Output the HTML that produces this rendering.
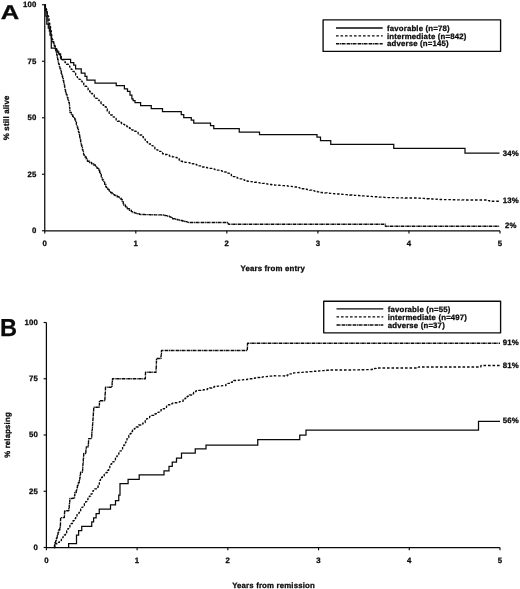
<!DOCTYPE html>
<html><head><meta charset="utf-8"><title>Survival and relapse curves</title>
<style>
html,body{margin:0;padding:0;background:#fff;}
body{width:520px;height:589px;position:relative;overflow:hidden;font-family:"Liberation Sans",sans-serif;}
</style></head>
<body>
<svg width="520" height="589" viewBox="0 0 520 589" style="position:absolute;left:0;top:0;display:block;will-change:transform;transform:translateZ(0)">
<rect width="520" height="589" fill="#fff"/>
<g font-family="Liberation Sans, sans-serif" font-weight="bold" font-size="7.8px" letter-spacing="0.17" fill="#0a0a0a" stroke="#0a0a0a" stroke-width="0.28" stroke-linejoin="round" text-rendering="geometricPrecision">
<path d="M44.75,4.75V230.75H500" fill="none" stroke="#0a0a0a" stroke-width="1.25"/>
<path d="M41.95,4.75H44.75" stroke="#0a0a0a" stroke-width="1.15"/>
<path d="M41.95,61.25H44.75" stroke="#0a0a0a" stroke-width="1.15"/>
<path d="M41.95,117.75H44.75" stroke="#0a0a0a" stroke-width="1.15"/>
<path d="M41.95,174.25H44.75" stroke="#0a0a0a" stroke-width="1.15"/>
<path d="M41.95,230.75H44.75" stroke="#0a0a0a" stroke-width="1.15"/>
<path d="M44.75,230.75V233.55" stroke="#0a0a0a" stroke-width="1.15"/>
<path d="M135.8,230.75V233.55" stroke="#0a0a0a" stroke-width="1.15"/>
<path d="M226.85,230.75V233.55" stroke="#0a0a0a" stroke-width="1.15"/>
<path d="M317.9,230.75V233.55" stroke="#0a0a0a" stroke-width="1.15"/>
<path d="M408.95,230.75V233.55" stroke="#0a0a0a" stroke-width="1.15"/>
<path d="M500,230.75V233.55" stroke="#0a0a0a" stroke-width="1.15"/>

<text x="36.6" y="7.05" text-anchor="end">100</text>
<text x="36.6" y="63.55" text-anchor="end">75</text>
<text x="36.6" y="120.05" text-anchor="end">50</text>
<text x="36.6" y="176.55" text-anchor="end">25</text>
<text x="36.6" y="233.05" text-anchor="end">0</text>

<text x="44.75" y="245.7" text-anchor="middle">0</text>
<text x="135.8" y="245.7" text-anchor="middle">1</text>
<text x="226.85" y="245.7" text-anchor="middle">2</text>
<text x="317.9" y="245.7" text-anchor="middle">3</text>
<text x="408.95" y="245.7" text-anchor="middle">4</text>
<text x="500" y="245.7" text-anchor="middle">5</text>

<text transform="translate(8.7,117.8) rotate(-90)" text-anchor="middle" font-size="7.9px">% still alive</text>
<text x="272.75" y="270.5" text-anchor="middle" font-size="7.85px">Years from entry</text>
<text transform="translate(0.85,18.95) scale(1.275,1)" font-size="20px" letter-spacing="0">A</text>
<path d="M44.75,4.75H45.3V10H45.9V16H46.8V24H48.3V28H49.4V31H50V35H51.3V48.2H55.5V49.5H56.9V51.9H58.75V53.75H60.6V56.5H61.25V59.4H70.6V62.5H73.75V65H75.6V68.75H81.25V73.1H85V76.25H86.9V80H95V83.1H116.25V85.6H124.4V88.75H127.5V91.25H130V95H131.9V98.75H133.1V100.6H135V102.5H140.6V105.6H151.25V108.5H162.5V111.5H181.25V114.5H183.75V117.5H191.25V120H193.75V123H210.5V125.5H213.75V128.5H239.25V132H259.5V134.5H317V137H320.5V140.5H330.75V144.25H393.75V148.25H465V153H499.5V153" fill="none" stroke="#0a0a0a" stroke-width="1.25" stroke-linejoin="miter"/>
<path d="M44.75,4.75H45.43V7.05H46.11V9.35H46.60V11.00H47.27V13.30H47.94V15.61H48.20V16.50H48.64V18.86H49.08V21.22H49.52V23.58H49.60V24.00H50.07V26.35H50.54V28.71H51.00V31.00H51.28V33.38H51.57V35.77H51.85V38.15H52.00V39.40H52.85V41.64H53.71V43.89H54.56V46.13H55.41V48.37H55.50V48.60H56.67V50.70H57.83V52.80H58.50V54.00H59.57V56.15H60.50V58.00H62.20V59.70H63.89V61.39H65.00V62.50H66.61V64.28H68.22V66.06H69.83V67.84H71.25V69.40H72.72V71.30H74.18V73.20H75.65V75.10H77.11V77.00H77.50V77.50H79.06V79.32H80.62V81.14H82.19V82.97H83.75V84.79H85.00V86.25H86.56V88.07H88.12V89.89H89.69V91.72H91.25V93.54H92.50V95.00H94.20V96.70H95.89V98.39H97.59V100.09H99.29V101.79H100.99V103.49H101.25V103.75H103.12V105.25H105.00V106.75H105.00V106.75H106.12V108.87H107.24V111.00H107.50V111.50H109.13V113.26H110.76V115.02H112.39V116.78H112.50V116.90H114.31V118.48H116.12V120.05H117.50V121.25H119.53V122.53H121.56V123.81H122.50V124.40H124.65V125.47H126.79V126.55H127.50V126.90H129.48V128.26H131.45V129.62H132.00V130.00H134.04V131.27H136.07V132.54H138.11V133.82H140.00V135.00H141.70V136.70H143.39V138.39H145.09V140.09H146.79V141.79H147.50V142.50H149.34V144.04H151.19V145.57H153.03V147.11H154.87V148.65H155.00V148.75H157.00V150.08H158.99V151.41H160.99V152.74H162.50V153.75H164.78V154.51H167.05V155.27H169.33V156.03H170.00V156.25H172.33V156.83H174.66V157.41H175.00V157.50H177.06V158.73H179.12V159.97H181.17V161.20H182.50V162.00H184.88V162.32H187.26V162.63H189.64V162.95H190.00V163.00H192.29V163.73H194.57V164.46H196.86V165.19H199.14V165.93H201.43V166.66H202.50V167.00H204.85V167.47H207.21V167.94H209.56V168.41H211.91V168.88H214.27V169.35H215.00V169.50H217.33V170.08H219.66V170.66H221.99V171.25H224.31V171.83H225.00V172.00H227.10V173.16H229.21V174.31H231.31V175.47H233.41V176.63H235.00V177.50H237.30V178.19H239.60V178.88H241.90V179.57H244.20V180.26H246.49V180.95H247.50V181.25H249.88V181.58H252.25V181.92H254.63V182.25H257.01V182.58H259.38V182.91H260.00V183.00H262.37V183.38H264.74V183.76H267.11V184.14H269.48V184.52H271.85V184.90H272.50V185.00H274.90V185.14H277.29V185.29H279.69V185.43H282.08V185.57H284.48V185.72H285.00V185.75H287.38V186.05H289.76V186.35H292.14V186.64H294.53V186.94H295.00V187.00H297.34V187.55H299.67V188.09H302.01V188.64H302.50V188.75H304.85V189.22H307.21V189.69H309.56V190.16H311.91V190.63H314.27V191.10H315.00V191.25H317.33V191.83H319.66V192.41H320.00V192.50H322.39V192.71H324.78V192.92H327.17V193.13H329.56V193.34H331.95V193.55H334.35V193.76H336.74V193.96H339.13V194.17H340.00V194.25H342.39V194.43H344.79V194.61H347.18V194.79H349.57V194.97H351.97V195.15H354.36V195.33H356.75V195.51H359.15V195.69H360.00V195.75H362.39V195.92H364.79V196.09H367.18V196.25H369.58V196.42H371.97V196.59H374.36V196.76H376.76V196.92H379.15V197.09H381.55V197.26H383.94V197.43H385.00V197.50H387.40V197.56H389.80V197.62H392.20V197.68H394.60V197.74H397.00V197.80H399.40V197.86H401.79V197.92H404.19V197.98H405.00V198.00H415.00V198.00H417.40V198.14H419.79V198.29H422.19V198.43H424.58V198.57H426.98V198.72H429.37V198.86H431.77V199.01H434.17V199.15H436.56V199.29H438.96V199.44H440.00V199.50H442.40V199.55H444.80V199.60H447.20V199.64H449.60V199.69H452.00V199.74H454.40V199.79H456.80V199.84H459.20V199.88H461.60V199.93H464.00V199.98H465.00V200.00H485.00V200.00H487.33V200.58H489.66V201.16H490.00V201.25H499.50V201.25" fill="none" stroke="#0a0a0a" stroke-width="1.35" stroke-dasharray="2.6 1.9"/>
<path d="M44.75,4.75H45.29V7.09H45.83V9.43H46.20V11.00H46.71V13.34H47.22V15.69H47.40V16.50H47.72V18.88H48.03V21.26H48.35V23.64H48.40V24.00H49.06V26.31H49.72V28.62H50.38V30.92H50.40V31.00H50.74V33.38H51.08V35.75H51.42V38.13H51.60V39.40H52.50V41.63H53.39V43.85H54.29V46.08H55.18V48.31H55.30V48.60H55.83V50.94H56.36V53.28H56.70V54.80H57.19V57.15H57.67V59.50H58.16V61.85H58.60V64.00H59.28V66.30H59.96V68.60H60.00V68.75H60.64V71.06H61.28V73.38H61.91V75.69H62.00V76.00H62.62V78.32H63.25V80.63H63.75V82.50H64.19V84.86H64.62V87.22H65.06V89.58H65.50V91.94H65.60V92.50H66.36V94.78H67.12V97.05H67.88V99.33H68.10V100.00H68.70V102.32H69.31V104.65H69.40V105.00H69.59V107.39H69.78V109.78H69.97V112.18H70.00V112.50H71.33V114.50H72.66V116.49H73.99V118.49H75.00V120.00H75.69V122.30H76.38V124.60H77.07V126.90H77.76V129.20H78.45V131.49H78.75V132.50H79.22V134.85H79.69V137.21H80.16V139.56H80.63V141.91H81.10V144.27H81.25V145.00H81.83V147.33H82.41V149.66H83.00V151.99H83.58V154.31H83.75V155.00H84.98V157.06H86.22V159.12H87.45V161.17H87.50V161.25H89.56V162.48H91.62V163.72H93.67V164.95H93.75V165.00H95.45V166.70H97.14V168.39H98.75V170.00H99.59V172.25H100.44V174.49H101.28V176.74H102.12V178.99H102.50V180.00H103.57V182.15H104.65V184.29H105.72V186.44H106.25V187.50H107.69V189.42H109.13V191.34H110.00V192.50H112.06V193.73H114.12V194.97H115.00V195.50H117.02V196.79H119.04V198.09H121.06V199.38H121.25V199.50H122.24V201.68H123.24V203.87H123.75V205.00H125.45V206.70H127.14V208.39H127.50V208.75H129.42V210.19H131.34V211.63H132.50V212.50H134.82V213.12H137.14V213.74H139.46V214.36H140.00V214.50H142.40V214.55H144.80V214.61H147.20V214.66H149.60V214.71H152.00V214.77H154.40V214.82H156.80V214.87H159.20V214.93H161.59V214.98H162.50V215.00H164.82V215.62H167.14V216.24H169.46V216.86H170.00V217.00H171.97V218.38H172.50V218.75H174.84V219.30H177.17V219.84H179.51V220.39H180.00V220.50H182.34V221.03H184.68V221.57H187.02V222.10H188.75V222.50H226.25V222.50H228.22V223.88H228.75V224.25H383.75V224.25H385.33V226.06H385.50V226.25H499.50V226.25" fill="none" stroke="#0a0a0a" stroke-width="1.38" stroke-dasharray="3.4 0.6 0.9 0.6"/>
<rect x="323.1" y="19.8" width="177.5" height="31.6" fill="#fff" stroke="#0a0a0a" stroke-width="1.35"/>
<path d="M336,28H382.7" stroke="#0a0a0a" stroke-width="1.35"/>
<text x="387" y="30.7">favorable (n=78)</text>
<path d="M336,35.9H382.7" stroke="#0a0a0a" stroke-width="1.35" stroke-dasharray="2.6 1.9"/>
<text x="387" y="38.6">intermediate (n=842)</text>
<path d="M336,43.75H382.7" stroke="#0a0a0a" stroke-width="1.35" stroke-dasharray="3.4 0.6 0.9 0.6"/>
<text x="387" y="46.45">adverse (n=145)</text>

<text x="510.7" y="155.6" text-anchor="middle">34%</text>
<text x="510.7" y="203.1" text-anchor="middle">13%</text>
<text x="510.7" y="228" text-anchor="middle">2%</text>
<path d="M46.4,322.5V547.5H500" fill="none" stroke="#0a0a0a" stroke-width="1.25"/>
<path d="M43.6,322.5H46.4" stroke="#0a0a0a" stroke-width="1.15"/>
<path d="M43.6,378.75H46.4" stroke="#0a0a0a" stroke-width="1.15"/>
<path d="M43.6,435H46.4" stroke="#0a0a0a" stroke-width="1.15"/>
<path d="M43.6,491.25H46.4" stroke="#0a0a0a" stroke-width="1.15"/>
<path d="M43.6,547.5H46.4" stroke="#0a0a0a" stroke-width="1.15"/>
<path d="M46.4,547.5V550.3" stroke="#0a0a0a" stroke-width="1.15"/>
<path d="M137.12,547.5V550.3" stroke="#0a0a0a" stroke-width="1.15"/>
<path d="M227.84,547.5V550.3" stroke="#0a0a0a" stroke-width="1.15"/>
<path d="M318.56,547.5V550.3" stroke="#0a0a0a" stroke-width="1.15"/>
<path d="M409.28,547.5V550.3" stroke="#0a0a0a" stroke-width="1.15"/>
<path d="M500,547.5V550.3" stroke="#0a0a0a" stroke-width="1.15"/>

<text x="38.0" y="324.8" text-anchor="end">100</text>
<text x="38.0" y="381.05" text-anchor="end">75</text>
<text x="38.0" y="437.3" text-anchor="end">50</text>
<text x="38.0" y="493.55" text-anchor="end">25</text>
<text x="38.0" y="549.8" text-anchor="end">0</text>

<text x="46.4" y="562.8" text-anchor="middle">0</text>
<text x="137.12" y="562.8" text-anchor="middle">1</text>
<text x="227.84" y="562.8" text-anchor="middle">2</text>
<text x="318.56" y="562.8" text-anchor="middle">3</text>
<text x="409.28" y="562.8" text-anchor="middle">4</text>
<text x="500" y="562.8" text-anchor="middle">5</text>

<text transform="translate(10.3,435) rotate(-90)" text-anchor="middle">% relapsing</text>
<text x="273.5" y="587.5" text-anchor="middle" font-size="7.8px">Years from remission</text>
<text transform="translate(0.1,335.7) scale(0.96,1)" font-size="24.6px" letter-spacing="0">B</text>
<path d="M68.6,547.5H68.6V543.5H76.5V535H78.6V530.6H81.75V526.25H91.75V521.9H93.6V517.75H96.1V513.5H99.25V509H110.5V504.75H115.5V500.5H118.75V495H120V483.5H128.1V479.4H139.2V474.75H164V470.75H169V466.25H172.25V462H176.5V458H181.5V453H195.25V448.75H206V445H257.75V439.5H299.75V435H306V430H478.5V421.25H500V421.25" fill="none" stroke="#0a0a0a" stroke-width="1.25" stroke-linejoin="miter"/>
<path d="M54.00,547.50H54.89V545.27H55.50V543.75H57.45V542.35H59.40V540.96H59.90V540.60H61.37V538.70H62.84V536.81H64.25V535.00H65.45V532.92H66.66V530.85H67.86V528.77H68.60V527.50H69.89V525.48H71.18V523.45H72.47V521.43H73.00V520.60H74.33V518.60H75.66V516.61H76.99V514.61H78.00V513.10H79.33V511.10H80.66V509.11H81.99V507.11H83.00V505.60H84.33V503.60H85.66V501.61H86.99V499.61H88.00V498.10H89.33V496.10H90.66V494.11H91.99V492.11H93.00V490.60H94.72V488.93H96.44V487.25H98.16V485.58H98.75V485.00H99.32V482.67H99.90V480.34H100.47V478.01H100.60V477.50H102.40V475.91H104.19V474.32H105.99V472.73H106.25V472.50H107.44V470.42H108.63V468.33H109.82V466.25H111.01V464.16H111.25V463.75H112.64V461.80H114.04V459.84H115.43V457.89H116.83V455.94H117.50V455.00H118.77V452.96H120.04V450.93H121.32V448.89H122.59V446.86H123.75V445.00H124.82V442.85H125.90V440.71H126.97V438.56H127.50V437.50H128.83V435.50H130.16V433.51H131.49V431.51H132.50V430.00H134.37V428.50H136.25V427.00H138.12V425.50H138.75V425.00H140.90V423.93H143.04V422.85H143.75V422.50H145.19V420.58H146.63V418.66H147.50V417.50H149.65V416.43H151.79V415.35H153.94V414.28H155.00V413.75H157.00V412.42H158.99V411.09H160.99V409.76H162.50V408.75H164.50V407.42H166.49V406.09H168.49V404.76H170.00V403.75H172.34V403.23H174.69V402.71H177.03V402.19H179.37V401.67H181.25V401.25H183.12V399.75H185.00V398.25H186.87V396.75H187.50V396.25H189.53V394.97H191.56V393.70H193.60V392.42H195.63V391.14H196.25V390.75H198.63V390.41H201.00V390.07H203.38V389.73H205.00V389.50H207.28V388.76H209.56V388.02H211.85V387.27H214.13V386.53H215.00V386.25H217.39V386.05H219.78V385.84H222.17V385.64H223.75V385.50H225.90V384.43H228.04V383.35H230.19V382.28H232.34V381.21H233.75V380.50H236.14V380.29H238.53V380.08H240.92V379.86H243.31V379.65H245.00V379.50H247.37V379.12H249.74V378.74H252.11V378.36H254.48V377.98H256.85V377.60H257.50V377.50H259.88V377.22H262.27V376.94H264.65V376.67H267.04V376.39H269.42V376.11H271.80V375.83H272.50V375.75H274.90V375.80H277.30V375.85H279.70V375.89H282.10V375.94H284.50V375.99H285.00V376.00H287.16V374.96H289.33V373.92H291.25V373.00H293.64V372.83H296.04V372.65H298.43V372.48H300.82V372.30H303.22V372.13H305.00V372.00H307.39V371.81H309.78V371.62H312.18V371.43H314.57V371.23H316.96V371.04H319.35V370.85H321.75V370.66H324.14V370.47H326.53V370.28H328.92V370.09H330.00V370.00H350.00V370.00H352.40V369.94H354.80V369.88H357.20V369.82H359.60V369.76H362.00V369.70H364.40V369.64H366.79V369.58H369.19V369.52H370.00V369.50H372.33V368.94H374.67V368.38H376.25V368.00H390.00V368.00H416.00V368.00H418.26V367.18H418.75V367.00H478.75V367.00H480.81V365.77H481.25V365.50H500.00V365.50" fill="none" stroke="#0a0a0a" stroke-width="1.35" stroke-dasharray="2.6 1.9"/>
<path d="M54.00,547.50H54.47V545.15H54.94V542.79H55.00V542.50H55.73V540.21H56.46V537.93H57.19V535.64H57.40V535.00H57.96V532.67H58.52V530.33H58.60V530.00H59.78V527.91H60.30V527.00H60.38V524.60H60.45V522.20H60.53V519.80H60.60V517.60H64.25V517.60H64.38V515.20H64.50V512.81H64.60V511.00H66.99V510.76H68.60V510.60H68.91V508.22H69.00V507.50H69.24V505.11H69.48V502.72H69.72V500.34H69.90V498.50H72.28V498.23H74.25V498.00H74.53V495.62H74.81V493.23H74.90V492.50H76.25V490.52H76.60V490.00H77.03V487.64H77.45V485.28H77.50V485.00H78.35V482.76H79.21V480.51H79.40V480.00H79.77V477.63H80.14V475.26H80.51V472.89H80.60V472.30H82.40V472.00H82.56V469.61H82.71V467.21H82.87V464.82H83.02V462.42H83.10V461.25H83.30V458.86H83.50V456.47H83.70V454.08H83.75V453.50H85.60V452.50H85.88V450.12H86.15V447.73H86.25V446.90H88.14V445.42H88.30V445.30H88.41V442.90H88.51V440.50H88.60V438.60H91.50V438.60H91.66V436.21H91.81V433.81H91.90V432.50H92.09V430.11H92.28V427.72H92.47V425.32H92.50V425.00H92.67V422.61H92.84V420.21H93.01V417.82H93.18V415.42H93.35V413.03H93.51V410.64H93.68V408.24H93.75V407.30H99.25V407.30H99.34V404.90H99.43V402.50H99.50V400.75H104.75V400.75H104.88V398.35H105.02V395.96H105.15V393.56H105.28V391.16H105.42V388.77H105.50V387.30H111.75V387.30H111.96V384.91H112.17V382.52H112.38V380.13H112.50V378.75H145.25V378.75H145.34V376.35H145.44V373.95H145.50V372.30H156.00V372.30H156.09V369.90H156.17V367.50H156.26V365.10H156.35V362.71H156.43V360.31H156.50V358.50H160.75V358.50H160.97V356.11H161.20V353.72H161.42V351.33H161.50V350.50H247.25V350.50H247.33V348.10H247.42V345.70H247.50V343.30H247.50V343.30H500.00V343.30" fill="none" stroke="#0a0a0a" stroke-width="1.38" stroke-dasharray="3.4 0.6 0.9 0.6"/>
<rect x="323.7" y="301.2" width="176.9" height="31.6" fill="#fff" stroke="#0a0a0a" stroke-width="1.35"/>
<path d="M336.5,308.9H383.3" stroke="#0a0a0a" stroke-width="1.35"/>
<text x="387.7" y="311.6">favorable (n=55)</text>
<path d="M336.5,316.9H383.3" stroke="#0a0a0a" stroke-width="1.35" stroke-dasharray="2.6 1.9"/>
<text x="387.7" y="319.6">intermediate (n=497)</text>
<path d="M336.5,325H383.3" stroke="#0a0a0a" stroke-width="1.35" stroke-dasharray="3.4 0.6 0.9 0.6"/>
<text x="387.7" y="327.7">adverse (n=37)</text>

<text x="510.9" y="345.1" text-anchor="middle">91%</text>
<text x="510.9" y="368" text-anchor="middle">81%</text>
<text x="510.9" y="423.2" text-anchor="middle">56%</text>
</g></svg>
</body></html>
